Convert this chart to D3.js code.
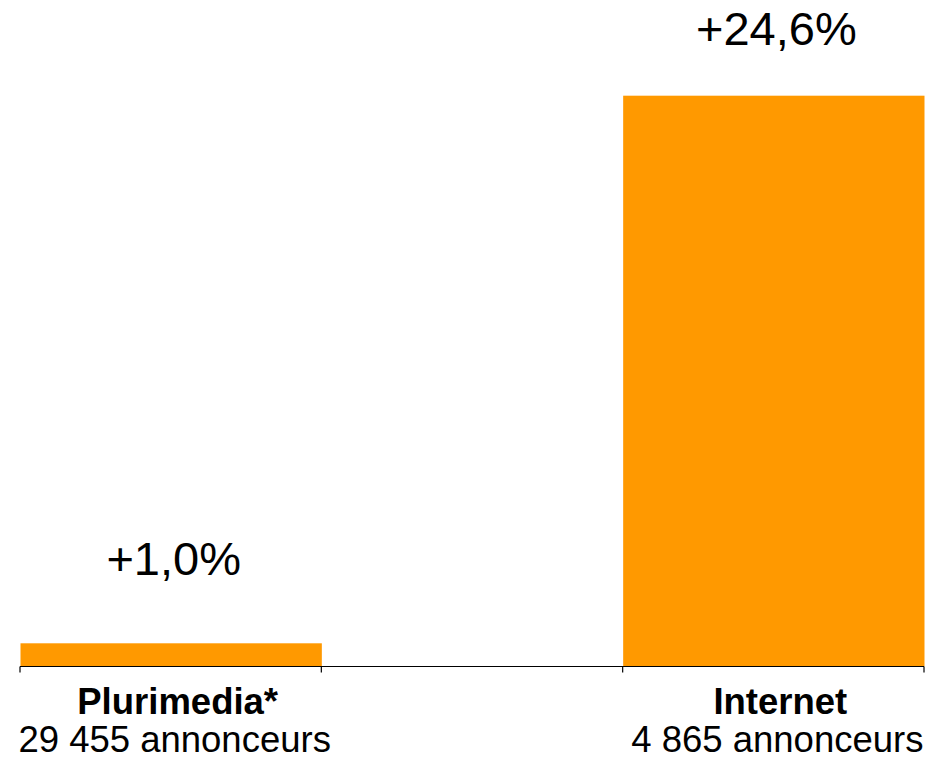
<!DOCTYPE html>
<html>
<head>
<meta charset="utf-8">
<script src="https://cdn.jsdelivr.net/npm/d3@7/dist/d3.min.js"></script>
<style>
  html, body { margin: 0; padding: 0; background: #ffffff; }
  svg { display: block; }
  text { font-family: "Liberation Sans", Arial, Helvetica, sans-serif; fill: #000; }
</style>
</head>
<body>
<svg id="chart" width="938" height="758"></svg>
<script>
// Category slots along the axis (middle slot is an empty spacer)
const categories = ["Plurimedia*", "", "Internet"];
// Growth in percent for each slot
const growth = [1.0, null, 24.6];
// Value labels shown above the bars
const growthLabels = ["+1,0%", "", "+24,6%"];
// Advertiser counts shown under the category names
const advertisers = ["29 455 annonceurs", "", "4 865 annonceurs"];

// Layout
const width = 938, height = 758;
const plot = { left: 20, right: 924, base: 666.5, top: 95.7 };
const labelGap = [68, null, 51];   // distance from bar top to value-label baseline
const barColor = "#FF9900";

const svg = d3.select("#chart");

const x = d3.scaleBand()
  .domain(d3.range(categories.length))
  .range([plot.left, plot.right])
  .paddingInner(0)
  .paddingOuter(0);

const y = d3.scaleLinear()
  .domain([0, 24.6])
  .range([plot.base, plot.top]);

const rows = categories.map((c, i) => ({
  i, cat: c, v: growth[i], label: growthLabels[i], count: advertisers[i], gap: labelGap[i]
}));
const bars = rows.filter(d => d.v != null);

// Bars
svg.append("g")
  .selectAll("rect")
  .data(bars)
  .join("rect")
  .attr("x", d => x(d.i) + 0.5)
  .attr("width", x.bandwidth())
  .attr("y", d => y(d.v))
  .attr("height", d => y(0) - y(d.v))
  .attr("fill", barColor);

// Category axis: baseline with ticks on the slot boundaries
const axis = svg.append("g").attr("stroke", "#000").attr("stroke-width", 1.2);
axis.append("line")
  .attr("x1", plot.left).attr("x2", plot.right)
  .attr("y1", y(0)).attr("y2", y(0));
const boundaries = x.domain().map(k => x(k)).concat([plot.right]);
axis.selectAll("line.tick")
  .data(boundaries)
  .join("line")
  .attr("class", "tick")
  .attr("x1", d => d).attr("x2", d => d)
  .attr("y1", y(0)).attr("y2", y(0) + 6);

// Value labels
svg.append("g")
  .selectAll("text")
  .data(bars)
  .join("text")
  .attr("x", d => x(d.i) + x.bandwidth() / 2 + 3)
  .attr("y", d => y(d.v) - d.gap)
  .attr("text-anchor", "middle")
  .style("font-size", "47px")
  .text(d => d.label);

// Category names and advertiser counts
const catLabels = svg.append("g")
  .selectAll("text")
  .data(bars)
  .join("text")
  .attr("text-anchor", "middle")
  .style("font-size", "36.5px");

catLabels.append("tspan")
  .attr("x", d => x(d.i) + x.bandwidth() / 2 + 7)
  .attr("y", y(0) + 47)
  .style("font-weight", "bold")
  .text(d => d.cat);

catLabels.append("tspan")
  .attr("x", d => x(d.i) + x.bandwidth() / 2 + 4)
  .attr("y", y(0) + 85)
  .text(d => d.count);
</script>
</body>
</html>
